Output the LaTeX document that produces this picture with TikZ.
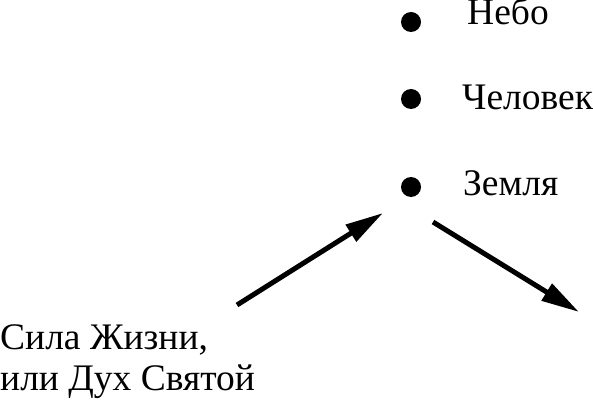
\documentclass[tikz,border=0pt]{standalone}
\usepackage{fontspec}
\setmainfont{Liberation Serif}
\usetikzlibrary{arrows.meta}
\tikzstyle{dot}=[circle, inner sep=0pt, fill=black, minimum size=20pt]
\tikzstyle{lbl}=[inner sep=0pt, anchor=base west, font=\fontsize{37.5}{41}\selectfont]
\tikzstyle{flow}=[line width=5pt, -{Triangle[length=38pt,width=19pt]}]
\begin{document}
\begin{tikzpicture}[x=1pt,y=-1pt]
				\useasboundingbox (0,0) rectangle (593,403);
				
				%The three levels
				\draw (411,22) node[dot] (heaven) {};
				\draw (411,99) node[dot] (man) {};
				\draw (411,187) node[dot] (earth) {};
				\draw (467,25) node[lbl] (heavenLbl) {Небо};
				\draw (462,110) node[lbl] (manLbl) {Человек};
				\draw (463,196) node[lbl] (earthLbl) {Земля};
				
				%The life force
				\draw (0,390) node[lbl, align=left] (spirit) {Сила Жизни,\\или Дух Святой};
				
				%The arrows
				\coordinate (inStart) at (237,305);
				\coordinate (inEnd) at (383,213);
				\coordinate (outStart) at (433,222);
				\coordinate (outEnd) at (579,312);
				\draw[flow] (inStart) -- (inEnd);
				\draw[flow] (outStart) -- (outEnd);
			\end{tikzpicture}
\end{document}
